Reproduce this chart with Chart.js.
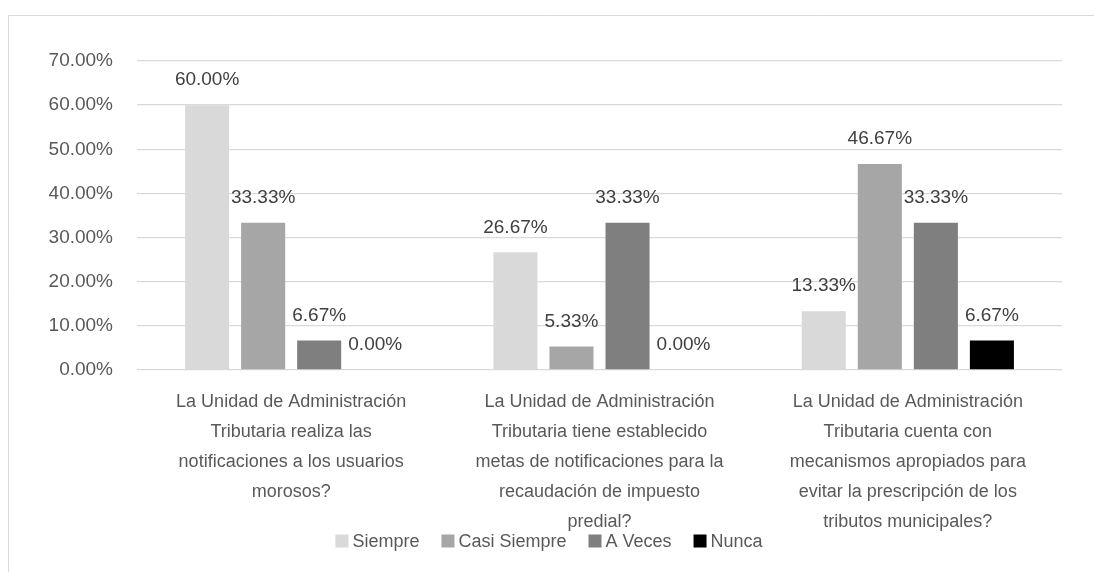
<!DOCTYPE html>
<html>
<head>
<meta charset="utf-8">
<script src="https://cdn.jsdelivr.net/npm/chart.js@4/dist/chart.umd.min.js"></script>
<style>
  html, body { margin: 0; padding: 0; background: #fff; }
  #wrap { width: 1094px; height: 572px; }
</style>
</head>
<body>
<div id="wrap"><canvas id="myChart" width="1094" height="572"></canvas></div>
<script>
const categories = [
    ['La Unidad de Administración', 'Tributaria realiza las', 'notificaciones a los usuarios', 'morosos?'],
    ['La Unidad de Administración', 'Tributaria tiene establecido', 'metas de notificaciones para la', 'recaudación de impuesto', 'predial?'],
    ['La Unidad de Administración', 'Tributaria cuenta con', 'mecanismos apropiados para', 'evitar la prescripción de los', 'tributos municipales?']
];
const seriesNames = ['Siempre', 'Casi Siempre', 'A Veces', 'Nunca'];
const siempre = [60.00, 26.67, 13.33];
const casiSiempre = [33.33, 5.33, 46.67];
const aVeces = [6.67, 33.33, 33.33];
const nunca = [0.00, 0.00, 6.67];
const yTicks = [0, 10, 20, 30, 40, 50, 60, 70];

const colors = ['#d9d9d9', '#a6a6a6', '#7f7f7f', '#000000'];
const seriesValues = [siempre, casiSiempre, aVeces, nunca];
const fontFamily = '"Liberation Sans", Arial, sans-serif';

// frame round the chart, like the Excel chart border
const framePlugin = {
    id: 'frame',
    beforeDraw(chart) {
        const ctx = chart.ctx;
        ctx.save();
        ctx.fillStyle = '#ffffff';
        ctx.fillRect(0, 0, chart.width, chart.height);
        ctx.strokeStyle = '#d9d9d9';
        ctx.lineWidth = 1;
        ctx.beginPath();
        ctx.moveTo(8.5, chart.height);
        ctx.lineTo(8.5, 15.5);
        ctx.lineTo(chart.width, 15.5);
        ctx.stroke();
        ctx.restore();
    }
};

// value labels above each bar
const valueLabels = {
    id: 'valueLabels',
    afterDatasetsDraw(chart) {
        const ctx = chart.ctx;
        ctx.save();
        ctx.font = '19px ' + fontFamily;
        ctx.fillStyle = '#404040';
        ctx.textAlign = 'center';
        ctx.textBaseline = 'middle';
        chart.data.datasets.forEach((ds, i) => {
            chart.getDatasetMeta(i).data.forEach((bar, j) => {
                ctx.fillText(ds.data[j].toFixed(2) + '%', bar.x, bar.y - 25);
            });
        });
        ctx.restore();
    }
};

// legend drawn by hand so it can sit right under the category labels
const bottomLegend = {
    id: 'bottomLegend',
    afterDraw(chart) {
        const ctx = chart.ctx;
        const box = 13, gap = 4, spacing = 22, cy = 542, cx = 549;
        ctx.save();
        ctx.font = '18px ' + fontFamily;
        ctx.textBaseline = 'middle';
        ctx.textAlign = 'left';
        const items = chart.data.datasets.map(ds => ({
            text: ds.label,
            color: ds.backgroundColor,
            w: ctx.measureText(ds.label).width
        }));
        const total = items.reduce((s, it) => s + box + gap + it.w, 0) + spacing * (items.length - 1);
        let x = cx - total / 2;
        items.forEach(it => {
            ctx.fillStyle = it.color;
            ctx.fillRect(x, cy - box / 2 - 1, box, box);
            x += box + gap;
            ctx.fillStyle = '#595959';
            ctx.fillText(it.text, x, cy);
            x += it.w + spacing;
        });
        ctx.restore();
    }
};

const ctx = document.getElementById('myChart').getContext('2d');
const myChart = new Chart(ctx, {
    type: 'bar',
    data: {
        labels: categories,
        datasets: seriesNames.map((name, i) => ({
            label: name,
            data: seriesValues[i],
            backgroundColor: colors[i],
            borderWidth: 0,
            categoryPercentage: 0.727,
            barPercentage: 0.786
        }))
    },
    options: {
        responsive: false,
        animation: false,
        devicePixelRatio: 1,
        layout: {
            padding: { top: 61, right: 32, bottom: 0, left: 36 }
        },
        plugins: {
            legend: { display: false },
            tooltip: { enabled: false }
        },
        scales: {
            x: {
                grid: { display: false, drawTicks: false },
                border: { display: false },
                ticks: {
                    color: '#595959',
                    padding: 17,
                    maxRotation: 0,
                    autoSkip: false,
                    font: { family: fontFamily, size: 18, lineHeight: 30 / 18 }
                },
                afterFit(scale) { scale.height = 202; }
            },
            y: {
                min: 0,
                max: 70,
                afterBuildTicks(scale) {
                    scale.ticks = yTicks.map(v => ({ value: v }));
                },
                grid: { color: '#d9d9d9', lineWidth: 1.3, drawTicks: false },
                border: { display: false },
                ticks: {
                    color: '#595959',
                    padding: 24,
                    font: { family: fontFamily, size: 19 },
                    callback: v => v.toFixed(2) + '%'
                },
                afterFit(scale) { scale.width = 101; }
            }
        }
    },
    plugins: [framePlugin, valueLabels, bottomLegend]
});
</script>
</body>
</html>
